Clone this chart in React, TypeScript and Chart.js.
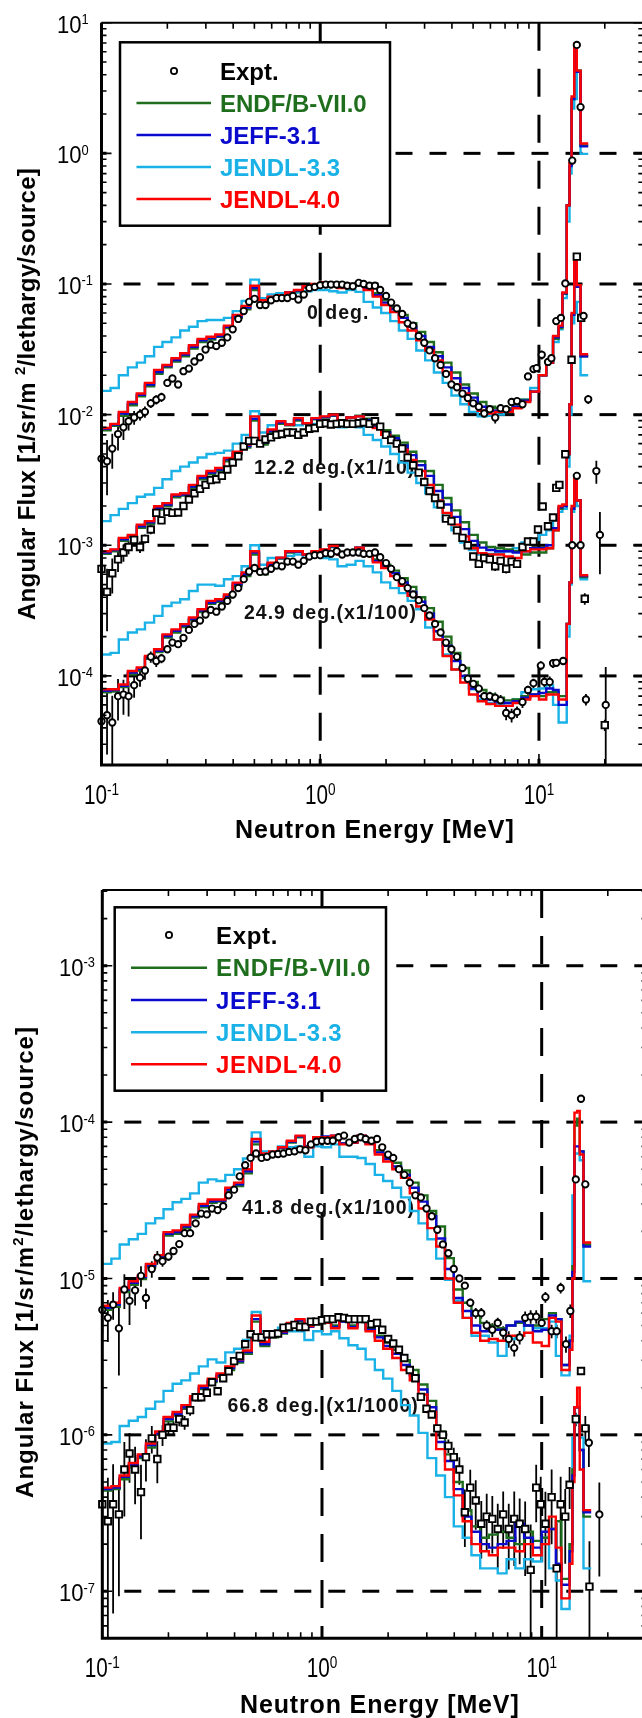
import React, { useEffect, useRef } from "react";
import { Chart, registerables } from "chart.js";

Chart.register(...registerables);

// ---------------- energy grids (MeV) ----------------
const CALC_EDGES = [
  0.1, 0.11, 0.12, 0.132, 0.145, 0.158, 0.174, 0.19, 0.209, 0.229, 0.251, 0.275, 0.302, 0.331, 0.363, 0.398, 0.437, 0.479, 0.525, 0.575, 0.631, 0.692, 0.759, 0.832, 0.912,
  1.0, 1.1, 1.2, 1.32, 1.45, 1.58, 1.74, 1.9, 2.09, 2.29, 2.51, 2.75, 3.02, 3.31, 3.63, 3.98, 4.37, 4.79, 5.25, 5.75, 6.31, 6.92, 7.59, 8.32, 9.12,
  10.0, 10.8, 11.6, 12.3, 12.8, 13.4, 13.8, 14.1, 14.5, 14.9, 15.5, 16.8,
];
const EXP_E = [
  0.1, 0.106, 0.112, 0.119, 0.126, 0.133, 0.141, 0.15, 0.158, 0.168, 0.178, 0.188, 0.2, 0.211, 0.224, 0.237, 0.251, 0.266, 0.282, 0.299,
  0.316, 0.335, 0.355, 0.376, 0.398, 0.422, 0.447, 0.473, 0.501, 0.531, 0.562, 0.596, 0.631, 0.668, 0.708, 0.75, 0.794, 0.841, 0.891, 0.944,
  1.0, 1.06, 1.12, 1.19, 1.26, 1.33, 1.41, 1.5, 1.58, 1.68, 1.78, 1.88, 2.0, 2.11, 2.24, 2.37, 2.51, 2.66, 2.82, 2.99,
  3.16, 3.35, 3.55, 3.76, 3.98, 4.22, 4.47, 4.73, 5.01, 5.31, 5.62, 5.96, 6.31, 6.68, 7.08, 7.5, 7.94, 8.41, 8.91, 9.44,
];

// ---------------- 0 deg (values in units of 1e-2) ----------------
const UNIT_0 = 1e-2;
const ENDF_0 = [0.76,0.82,0.98,1.18,1.38,1.65,2.05,2.3,2.55,2.8,3.2,3.6,3.75,3.95,4.6,5.5,6.4,9.0,7.0,7.7,8.0,8.5,8.8,9.4,9.9,10.2,10.0,9.4,10.0,10.2,9.6,8.5,7.5,6.6,5.8,5.0,4.3,3.6,3.0,2.5,2.1,1.7,1.45,1.25,1.15,1.12,1.12,1.2,1.3,1.5,2.0,2.5,3.8,4.6,8.4,40,84,260,650,430,115];
const JEFF_0 = [0.78,0.84,1.02,1.22,1.42,1.7,2.12,2.35,2.62,2.88,3.3,3.7,3.85,4.0,4.7,5.6,6.6,9.3,7.2,7.8,8.1,8.6,8.9,9.5,9.9,10.2,10.0,9.4,10.0,10.1,9.3,8.2,7.2,6.4,5.5,4.7,4.0,3.3,2.8,2.3,1.9,1.6,1.35,1.15,1.07,1.07,1.08,1.15,1.28,1.5,2.0,2.5,3.9,4.7,8.5,40,80,260,650,420,113];
const J33_0 = [1.52,1.6,2.0,2.3,2.5,2.8,3.3,3.6,3.9,4.4,4.7,5.2,5.3,5.3,5.5,6.2,7.4,10.8,7.8,8.3,8.5,8.6,8.6,8.8,9.0,9.0,8.8,8.6,9.0,8.7,7.3,6.6,6.0,5.2,4.4,3.8,3.1,2.6,2.1,1.75,1.4,1.2,1.05,0.97,0.98,1.0,1.05,1.15,1.3,1.6,2.0,2.5,3.6,4.5,7.8,30,70,220,260,430,99];
const J40_0 = [0.79,0.85,1.05,1.25,1.45,1.75,2.2,2.4,2.7,2.95,3.4,3.8,3.95,4.1,4.8,5.8,6.8,9.7,7.5,8.0,8.2,8.6,9.0,9.6,10.0,10.3,10.0,9.3,10.0,10.0,9.0,8.0,6.9,6.1,5.1,4.4,3.7,3.1,2.6,2.1,1.7,1.45,1.2,1.07,1.02,1.05,1.05,1.12,1.25,1.5,2.0,2.5,4.0,4.8,8.6,40,84,272,690,430,119];
const EXP_0 = [
  0.46,0.44,0.55,0.71,0.8,0.89,0.95,1.0,1.05,1.22,1.3,1.36,1.75,1.89,1.7,2.15,2.25,2.55,2.75,3.15,
  3.43,3.35,3.55,3.9,4.5,5.4,6.2,7.3,7.7,6.9,6.9,7.5,7.8,7.8,7.8,8.1,7.6,8.3,9.3,9.5,
  9.8,9.9,9.9,9.9,9.9,9.7,9.6,10.2,10.0,9.7,9.7,9.0,8.1,7.2,6.5,5.9,5.0,4.8,4.0,3.55,
  3.1,2.7,2.4,2.05,1.7,1.62,1.45,1.34,1.22,1.15,1.02,1.1,0.95,1.12,1.1,1.25,1.27,1.2,1.96,2.23,
];
const ERR_0 = [
  0.5,0.45,0.3,0.25,0.2,0.15,0.12,0.1,0.1,0.08,0.08,0.08,0.06,0.06,0.06,0.05,0,0,0,0,
  0,0,0,0,0,0,0,0,0,0,0,0,0,0,0,0,0,0,0,0,
  0,0,0,0,0,0,0,0,0,0,0,0,0,0,0,0,0,0,0,0,
  0,0,0,0,0,0,0,0,0,0.05,0.06,0.06,0.1,0.06,0.05,0.04,0.04,0.05,0.05,0.05,
];
const EXP_0_HE_E = [9.76, 10.3, 11.0, 11.4, 12.0, 12.6, 13.2, 14.2, 14.9, 15.5, 16.0, 16.8, 18.3, 19.0];
const EXP_0_HE = [2.27, 2.87, 2.53, 2.7, 5.2, 5.5, 10.1, 88, 676, 226, 5.7, 1.31, 0.37, 0.12];
const ERR_0_HE = [0, 0.08, 0, 0, 0.06, 0, 0, 0, 0, 0, 0, 0.08, 0.2, 0.5];

// ---------------- 12.2 deg x1/10 (units of 1e-3) ----------------
const UNIT_12 = 1e-3;
const ENDF_12 = [0.86,0.9,1.08,1.15,1.36,1.46,1.88,2.0,2.33,2.4,2.75,3.2,3.5,3.7,4.4,5.0,5.6,9.0,5.9,7.3,8.5,8.3,9.0,8.6,9.2,9.5,9.8,9.0,9.5,9.8,9.3,8.3,7.6,6.9,6.1,5.2,4.4,3.7,2.9,2.3,1.85,1.5,1.2,1.05,0.97,0.95,0.93,0.9,0.85,0.88,0.88,0.95,1.3,1.9,2.0,5,12,58,145,95,28];
const JEFF_12 = [0.88,0.92,1.11,1.18,1.4,1.5,1.93,2.05,2.4,2.45,2.82,3.3,3.6,3.8,4.55,5.1,5.75,9.3,6.1,7.5,8.7,8.4,9.2,8.6,9.3,9.6,9.9,9.0,9.5,9.7,9.1,8.1,7.3,6.6,5.8,4.9,4.1,3.4,2.6,2.05,1.65,1.33,1.08,0.96,0.92,0.9,0.9,0.88,0.9,0.95,0.95,1.0,1.35,1.95,2.0,5,12,58,145,95,28];
const J33_12 = [1.53,1.7,1.9,2.1,2.35,2.45,2.75,3.2,3.7,4.0,4.3,4.7,5.0,5.1,5.3,6.0,7.0,10.6,7.3,8.3,8.6,8.4,8.3,8.5,8.5,8.4,8.3,8.0,8.5,8.0,7.0,6.4,5.7,5.0,4.3,3.6,3.0,2.5,1.95,1.55,1.3,1.05,0.92,0.85,0.86,0.88,0.9,0.95,1.05,1.1,1.2,1.3,1.6,1.8,1.9,4,10,50,60,73,20];
const J40_12 = [0.9,0.93,1.14,1.2,1.44,1.53,1.99,2.1,2.45,2.5,2.9,3.4,3.7,3.9,4.66,5.2,5.9,9.7,6.25,7.7,8.9,8.4,9.4,8.6,9.4,9.7,10.0,8.9,9.5,9.7,8.9,7.9,7.0,6.25,5.4,4.5,3.7,2.9,2.2,1.77,1.44,1.17,0.95,0.87,0.85,0.85,0.82,0.8,0.9,0.93,0.93,0.95,1.3,2.0,2.05,5,12,60,150,98,29];
const EXP_12 = [
  0.66,0.44,0.61,0.78,0.88,0.97,1.1,0.97,1.12,1.32,1.77,1.55,1.8,1.77,1.78,2.0,2.24,2.5,2.7,2.9,
  3.15,3.2,3.4,3.8,4.3,4.8,5.7,6.3,6.3,6.0,6.45,6.7,7.0,7.1,7.3,7.3,7.0,7.3,7.8,7.9,
  8.5,8.6,8.4,8.5,8.6,8.5,8.5,8.6,8.7,8.5,8.9,8.1,7.0,6.4,6.0,5.5,4.7,4.1,3.6,3.05,
  2.6,2.3,2.05,1.6,1.53,1.3,1.14,1.0,0.82,0.72,0.8,0.78,0.69,0.76,0.66,0.75,0.72,0.97,1.07,1.07,
];
const ERR_12 = [
  0.4,0.5,0.3,0.2,0.15,0.12,0.1,0.1,0.08,0.08,0.06,0.06,0.05,0.05,0,0,0,0,0,0,
  0,0,0,0,0,0,0,0,0,0,0,0,0,0,0,0,0,0,0,0,
  0,0,0,0,0,0,0,0,0,0,0,0,0,0,0,0,0,0,0,0,
  0,0,0,0,0,0,0,0,0.05,0.06,0.06,0.06,0.08,0.06,0.08,0.06,0.06,0.05,0.05,0.05,
];
const EXP_12_HE_E = [9.9, 10.4, 11.0, 11.6, 12.0, 12.4, 13.2, 14.1, 14.9, 15.6, 16.2, 20.0];
const EXP_12_HE = [1.32, 1.98, 1.4, 1.63, 2.75, 2.9, 4.98, 26.3, 162, 55, 0.39, 0.042];
const ERR_12_HE = [0, 0, 0, 0, 0, 0, 0, 0, 0, 0, 0.1, 0.1];

// ---------------- 24.9 deg x1/100 (units of 1e-4) ----------------
const UNIT_24 = 1e-4;
const ENDF_24 = [0.75,0.76,0.82,1.03,1.1,1.35,1.52,1.97,2.15,2.37,2.66,3.08,3.56,3.7,4.0,4.9,5.8,8.5,6.0,7.1,7.9,8.8,8.9,8.5,8.9,9.2,9.7,8.6,8.9,9.6,8.6,7.8,7.1,6.4,5.6,4.8,4.0,3.3,2.6,2.0,1.5,1.15,0.9,0.78,0.72,0.68,0.65,0.66,0.7,0.72,0.7,0.75,0.75,0.7,0.7,2.5,5.2,19,33,22,5.7];
const JEFF_24 = [0.77,0.78,0.84,1.06,1.13,1.39,1.56,2.02,2.21,2.43,2.73,3.16,3.65,3.78,4.1,5.05,6.0,8.8,6.2,7.2,8.0,8.9,8.9,8.5,8.9,9.2,9.8,8.5,8.8,9.6,8.4,7.6,6.9,6.1,5.2,4.4,3.7,3.0,2.2,1.7,1.3,1.0,0.8,0.7,0.66,0.63,0.62,0.64,0.68,0.72,0.74,0.8,0.78,0.6,0.6,2.5,5.2,19,33,22,5.8];
const J33_24 = [1.46,1.5,1.9,2.15,2.27,2.56,2.88,3.43,3.64,3.86,4.47,5.0,5.0,4.9,5.5,5.8,6.9,10.0,7.1,8.0,8.0,8.3,8.5,8.0,8.5,8.0,7.8,6.9,7.1,7.6,6.9,6.2,5.2,4.7,4.3,3.75,3.24,2.35,1.9,1.46,1.12,0.97,0.79,0.66,0.62,0.61,0.62,0.66,0.75,0.79,0.8,0.85,0.6,0.44,0.44,2.0,5.0,18,25,20,5.5];
const J40_24 = [0.79,0.79,0.86,1.09,1.16,1.42,1.6,2.08,2.27,2.49,2.8,3.24,3.75,3.86,4.2,5.18,6.2,9.0,6.35,7.35,8.05,9.0,9.0,8.5,9.0,9.3,9.9,8.5,8.8,9.6,8.3,7.4,6.7,5.8,4.9,4.1,3.4,2.7,1.9,1.42,1.12,0.89,0.72,0.64,0.61,0.59,0.59,0.62,0.66,0.7,0.66,0.72,0.72,0.66,0.66,2.5,5.2,20,34,22,5.9];
const EXP_24 = [
  0.45,0.5,0.44,0.7,0.72,0.7,0.85,0.97,1.1,1.4,1.3,1.36,1.6,1.8,1.75,1.95,2.25,2.5,2.65,2.95,
  3.2,3.1,3.4,3.75,4.2,4.7,5.5,6.3,6.7,6.25,6.3,6.6,7.0,6.9,7.5,7.5,7.1,7.6,8.2,8.4,
  8.4,8.7,8.6,9.0,8.5,8.8,8.8,8.8,8.6,8.6,8.8,8.1,7.3,6.6,5.7,5.3,4.7,4.2,3.8,3.3,
  2.9,2.5,2.15,1.8,1.6,1.4,1.15,0.95,0.87,0.8,0.7,0.7,0.68,0.65,0.52,0.5,0.53,0.63,0.78,0.88,
];
const ERR_24 = [
  0.6,0.5,0.6,0.35,0.3,0.3,0.2,0.15,0.15,0.1,0.1,0.08,0.06,0.06,0.05,0.05,0,0,0,0,
  0,0,0,0,0,0,0,0,0,0,0,0,0,0,0,0,0,0,0,0,
  0,0,0,0,0,0,0,0,0,0,0,0,0,0,0,0,0,0,0,0,
  0,0,0,0,0,0,0,0,0.06,0.06,0.08,0.08,0.1,0.1,0.12,0.12,0.1,0.1,0.08,0.08,
];
const EXP_24_HE_E = [10.2, 10.6, 11.2, 11.6, 12.0, 12.9, 14.2, 14.9, 15.5, 16.4, 20.2];
const EXP_24_HE = [1.2, 0.9, 0.9, 1.25, 1.26, 1.3, 10, 34, 10, 0.66, 0.6];
const ERR_24_HE = [0.08, 0.1, 0.1, 0.08, 0.06, 0.06, 0, 0, 0, 0.1, 0.95];

// ---------------- 41.8 deg x1/100 (units of 1e-5) ----------------
const UNIT_41 = 1e-5;
const ENDF_41 = [0.63,0.66,0.82,0.91,0.99,1.18,1.34,1.88,1.93,2.1,2.45,2.85,3.05,3.1,3.6,3.9,4.7,7.2,5.9,6.3,6.8,7.4,8.0,7.0,7.9,8.0,8.1,7.3,7.4,8.1,7.4,6.6,6.0,5.5,4.9,4.1,3.4,2.7,2.15,1.35,0.85,0.7,0.58,0.52,0.5,0.48,0.5,0.52,0.5,0.5,0.55,0.6,0.55,0.28,0.28,0.4,1.2,9.5,10.5,6.5,1.65];
const JEFF_41 = [0.65,0.68,0.85,0.94,1.02,1.21,1.38,1.93,1.98,2.15,2.5,2.92,3.12,3.15,3.7,4.0,4.85,7.5,6.1,6.4,6.85,7.5,8.1,7.0,8.0,8.1,8.2,7.3,7.4,8.2,7.3,6.4,5.8,5.2,4.6,3.8,3.1,2.5,1.8,1.15,0.75,0.62,0.5,0.46,0.47,0.47,0.5,0.53,0.5,0.46,0.47,0.58,0.55,0.28,0.28,0.4,1.1,7.0,7.0,6.5,1.6];
const J33_41 = [1.24,1.34,1.65,1.78,1.93,2.25,2.43,2.77,3.07,3.23,3.5,4.1,4.3,4.2,4.6,5.0,5.85,8.6,6.5,6.5,7.0,6.9,7.0,6.0,7.0,6.9,7.2,6.0,6.0,5.9,5.4,4.6,4.2,3.8,3.3,2.7,2.25,1.78,1.34,0.98,0.72,0.56,0.43,0.43,0.39,0.32,0.41,0.43,0.5,0.48,0.48,0.53,0.32,0.24,0.24,0.43,3.4,6.3,6.3,5.7,0.96];
const J40_41 = [0.67,0.7,0.87,0.96,1.04,1.24,1.41,1.98,2.03,2.2,2.56,3.0,3.2,3.2,3.8,4.1,5.0,7.8,6.3,6.5,6.9,7.6,8.2,6.9,8.0,8.0,8.2,7.2,7.4,8.2,7.2,6.2,5.6,5.0,4.4,3.5,2.8,2.1,1.6,1.0,0.7,0.56,0.45,0.4,0.41,0.4,0.43,0.43,0.45,0.39,0.37,0.56,0.53,0.26,0.26,0.35,1.0,11.5,11.8,6.2,1.7];
const EXP_41 = [
  0.63,0.56,0.68,0.48,0.85,0.72,0.84,1.04,0.75,1.15,1.36,1.29,1.38,1.5,1.66,1.95,1.95,2.25,2.6,2.57,
  2.8,2.74,2.9,3.4,3.7,4.5,5.3,5.9,6.3,5.9,6.0,6.2,6.25,6.3,6.45,6.5,6.7,6.6,7.2,7.5,
  7.6,7.6,7.6,8.0,8.2,7.4,7.8,8.0,7.8,7.6,7.8,6.9,6.2,5.9,5.0,4.6,4.1,3.4,3.3,2.8,
  2.5,2.05,1.65,1.45,1.15,1.0,0.9,0.7,0.6,0.6,0.5,0.47,0.52,0.45,0.41,0.36,0.42,0.56,0.57,0.57,
];
const ERR_41 = [
  0.3,0.3,0.2,0.5,0.25,0.3,0.2,0.15,0.15,0.12,0.1,0.08,0.06,0.06,0.05,0.05,0,0,0,0,
  0,0,0,0,0,0,0,0,0,0,0,0,0,0,0,0,0,0,0,0,
  0,0,0,0,0,0,0,0,0,0,0,0,0,0,0,0,0,0,0,0,
  0,0,0,0,0,0,0.05,0.06,0.08,0.08,0.08,0.1,0.08,0.1,0.12,0.12,0.1,0.1,0.1,0.1,
];
const EXP_41_HE_E = [10.0, 10.4, 11.1, 11.7, 12.2, 12.9, 13.5, 14.3, 15.1, 15.8, 16.4, 18.3];
const EXP_41_HE = [0.52, 0.76, 0.46, 0.46, 0.87, 0.38, 0.62, 4.3, 14.1, 4.0, 0.089, 0.031];
const ERR_41_HE = [0.08, 0.08, 0.1, 0.1, 0.08, 0.12, 0.1, 0.05, 0, 0.05, 0.3, 0.6];

// ---------------- 66.8 deg x1/1000 (units of 1e-6) ----------------
const UNIT_66 = 1e-6;
const ENDF_66 = [0.44,0.45,0.52,0.62,0.71,0.83,1.0,1.22,1.33,1.47,1.68,1.96,2.18,2.35,2.6,2.9,3.3,5.3,3.7,4.2,4.45,5.0,5.3,5.0,5.3,5.2,5.0,5.3,5.0,5.3,4.8,4.3,3.9,3.5,3.0,2.6,2.1,1.65,1.05,0.75,0.5,0.33,0.26,0.22,0.23,0.24,0.22,0.2,0.24,0.21,0.22,0.25,0.28,0.12,0.12,0.2,0.6,1.5,1.5,0.8,0.3];
const JEFF_66 = [0.45,0.46,0.54,0.64,0.73,0.86,1.02,1.26,1.36,1.5,1.72,2.0,2.22,2.4,2.67,2.97,3.38,5.5,3.8,4.3,4.5,5.1,5.4,4.9,5.3,5.2,4.9,5.3,4.9,5.3,4.7,4.2,3.7,3.3,2.8,2.4,1.95,1.5,0.9,0.68,0.45,0.3,0.24,0.2,0.19,0.2,0.21,0.27,0.22,0.19,0.24,0.25,0.15,0.11,0.11,0.18,0.55,1.5,1.5,0.8,0.32];
const J33_66 = [0.88,0.9,1.14,1.23,1.3,1.47,1.63,1.91,2.12,2.23,2.47,2.74,3.04,2.9,3.37,3.55,4.04,6.1,4.6,4.4,4.85,4.6,4.6,4.04,4.6,4.4,4.6,4.15,3.74,3.55,3.04,2.6,2.29,1.91,1.55,1.33,1.03,0.71,0.55,0.4,0.26,0.22,0.17,0.14,0.14,0.13,0.16,0.14,0.16,0.155,0.22,0.14,0.117,0.077,0.077,0.2,0.96,1.2,1.33,0.96,0.14];
const J40_66 = [0.46,0.47,0.55,0.66,0.75,0.88,1.05,1.3,1.4,1.55,1.77,2.06,2.29,2.47,2.74,3.04,3.46,5.8,3.94,4.4,4.6,5.2,5.5,4.97,5.4,5.2,4.8,5.4,4.8,5.4,4.6,4.0,3.55,3.1,2.6,2.23,1.81,1.4,0.81,0.6,0.41,0.28,0.2,0.18,0.17,0.19,0.19,0.18,0.2,0.17,0.2,0.3,0.19,0.09,0.09,0.15,0.5,1.5,2.0,0.6,0.33];
const EXP_66 = [
  0.36,0.28,0.36,0.31,0.6,0.76,0.6,0.43,0.72,0.95,0.7,1.0,1.11,1.11,1.26,1.2,1.44,1.74,1.74,1.86,
  2.17,1.9,2.3,2.55,2.96,3.2,3.8,4.4,4.2,4.2,4.4,4.4,4.45,4.85,4.9,5.05,4.9,4.9,5.3,5.3,
  5.4,5.5,5.5,5.65,5.6,5.5,5.5,5.5,5.5,5.1,5.2,4.7,4.1,3.84,3.5,3.1,2.6,2.3,1.75,1.47,
  1.35,1.1,1.0,0.85,0.72,0.6,0.32,0.46,0.38,0.27,0.3,0.29,0.25,0.31,0.25,0.29,0.27,0.25,0.137,0.46,
];
const ERR_66 = [
  0.9,0.9,0.8,0.7,0.5,0.35,0.4,0.5,0.3,0.2,0.3,0.15,0.1,0.1,0.1,0.1,0.08,0.06,0.06,0.06,
  0.05,0.05,0,0,0,0,0,0,0,0,0,0,0,0,0,0,0,0,0,0,
  0,0,0,0,0,0,0,0,0,0,0,0,0,0,0,0,0,0,0,0,
  0,0,0.06,0.1,0.15,0.2,0.4,0.3,0.35,0.4,0.4,0.4,0.45,0.4,0.45,0.5,0.45,0.5,0.95,0.4,
];
const EXP_66_HE_E = [9.9, 10.4, 11.1, 11.7, 12.2, 12.8, 13.4, 14.3, 15.1, 15.8, 16.5];
const EXP_66_HE = [0.36, 0.27, 0.4, 0.14, 0.36, 0.3, 0.48, 1.26, 2.56, 1.1, 0.107];
const ERR_66_HE = [0.5, 0.6, 0.5, 0.95, 0.5, 0.5, 0.3, 0.1, 0.05, 0.2, 0.95];

// ---------------- labels ----------------
const LEGEND_LABELS = ["Expt.", "ENDF/B-VII.0", "JEFF-3.1", "JENDL-3.3", "JENDL-4.0"];
const LIB_COLORS = ["#1e6e1e", "#0a0acd", "#1ab2e6", "#ff0000"];
const LIB_ORDER = [3, 2, 4, 1];
const X_TITLE = "Neutron Energy [MeV]";
const Y_TITLE_TOP = ["Angular Flux [1/sr/m ", "2", "/lethargy/source]"];
const Y_TITLE_BOTTOM = ["Angular Flux [1/sr/m", "2", "/lethargy/source]"];
const X_TICK_EXPS = [-1, 0, 1];
const Y_TICK_EXPS_TOP = [1, 0, -1, -2, -3, -4];
const Y_TICK_EXPS_BOTTOM = [-3, -4, -5, -6, -7];
const ANNOT_TOP = ["0 deg.", "12.2 deg.(x1/10)", "24.9 deg.(x1/100)"];
const ANNOT_BOTTOM = ["41.8 deg.(x1/100)", "66.8 deg. (x1/1000)"];

const FONT = '"Liberation Sans", Arial, Helvetica, sans-serif';
const CANVAS_W = 660;

type Group = {
  unit: number;
  calc: number[][];
  exp: number[];
  err: number[];
  heE: number[];
  he: number[];
  heErr: number[];
  marker: string;
};

const G0: Group = { unit: UNIT_0, calc: [ENDF_0, JEFF_0, J33_0, J40_0], exp: EXP_0, err: ERR_0, heE: EXP_0_HE_E, he: EXP_0_HE, heErr: ERR_0_HE, marker: "circle" };
const G12: Group = { unit: UNIT_12, calc: [ENDF_12, JEFF_12, J33_12, J40_12], exp: EXP_12, err: ERR_12, heE: EXP_12_HE_E, he: EXP_12_HE, heErr: ERR_12_HE, marker: "rect" };
const G24: Group = { unit: UNIT_24, calc: [ENDF_24, JEFF_24, J33_24, J40_24], exp: EXP_24, err: ERR_24, heE: EXP_24_HE_E, he: EXP_24_HE, heErr: ERR_24_HE, marker: "circle" };
const G41: Group = { unit: UNIT_41, calc: [ENDF_41, JEFF_41, J33_41, J40_41], exp: EXP_41, err: ERR_41, heE: EXP_41_HE_E, he: EXP_41_HE, heErr: ERR_41_HE, marker: "circle" };
const G66: Group = { unit: UNIT_66, calc: [ENDF_66, JEFF_66, J33_66, J40_66], exp: EXP_66, err: ERR_66, heE: EXP_66_HE_E, he: EXP_66_HE, heErr: ERR_66_HE, marker: "rect" };

const TOP_CFG = {
  height: 860,
  padding: { left: 101.5, top: 22.7, right: CANVAS_W - 643.3, bottom: 860 - 765 },
  yMin: 2.08e-5,
  yMax: 10,
  groups: [G0, G12, G24],
  yTickExps: Y_TICK_EXPS_TOP,
  yLabelX: 57,
  yTitle: Y_TITLE_TOP,
  yTitlePos: [26.5, 394],
  yTitleSpacing: 0.3,
  xTitlePos: [374.8, 838],
  legend: { box: [120, 42.3, 390, 225.7], rows: [71, 103, 135, 167, 199], line: [136.5, 211], markerX: 174, textX: 220, spacing: 0 },
  annots: ANNOT_TOP,
  annotPos: [[307, 311.7], [254, 466.7], [244, 612.3]],
};
const BOTTOM_CFG = {
  height: 858,
  padding: { left: 102.3, top: 30, right: CANVAS_W - 646.5, bottom: 858 - 778.3 },
  yMin: 5e-8,
  yMax: 3.05e-3,
  groups: [G41, G66],
  yTickExps: Y_TICK_EXPS_BOTTOM,
  yLabelX: 59,
  yTitle: Y_TITLE_BOTTOM,
  yTitlePos: [24.5, 402],
  yTitleSpacing: 1.0,
  xTitlePos: [379.8, 853],
  legend: { box: [114.7, 47.3, 386, 230.7], rows: [75, 107.7, 140, 172.3, 204.3], line: [131, 207], markerX: 169, textX: 216, spacing: 0.7 },
  annots: ANNOT_BOTTOM,
  annotPos: [[242, 346.7], [227.5, 545]],
};

function stepData(values: number[], unit: number) {
  const pts = values.map((v, i) => ({ x: CALC_EDGES[i], y: v * unit }));
  pts.push({ x: CALC_EDGES[values.length], y: values[values.length - 1] * unit });
  return pts;
}

function expPoints(g: Group) {
  const pts: { x: number; y: number; e: number }[] = [];
  EXP_E.forEach((x, i) => pts.push({ x, y: g.exp[i] * g.unit, e: g.err[i] }));
  g.heE.forEach((x, i) => pts.push({ x, y: g.he[i] * g.unit, e: g.heErr[i] }));
  return pts;
}

function scaledText(ctx: CanvasRenderingContext2D, text: string, x: number, y: number, font: string, sx: number) {
  ctx.save();
  ctx.font = font;
  ctx.translate(x, y);
  ctx.scale(sx, 1);
  ctx.textAlign = "left";
  ctx.textBaseline = "alphabetic";
  ctx.fillText(text, 0, 0);
  const w = ctx.measureText(text).width * sx;
  ctx.restore();
  return w;
}
function measure(ctx: CanvasRenderingContext2D, text: string, font: string, sx: number) {
  ctx.save();
  ctx.font = font;
  const w = ctx.measureText(text).width * sx;
  ctx.restore();
  return w;
}

function drawMarker(ctx: CanvasRenderingContext2D, style: string, x: number, y: number) {
  ctx.save();
  ctx.fillStyle = "#fff";
  ctx.strokeStyle = "#000";
  ctx.lineWidth = 1.8;
  ctx.beginPath();
  if (style === "rect") ctx.rect(x - 3.2, y - 3.2, 6.4, 6.4);
  else ctx.arc(x, y, 3.1, 0, Math.PI * 2);
  ctx.fill();
  ctx.stroke();
  ctx.restore();
}

function makeDeco(cfg: any, groupsPts: any[]) {
  return {
    id: "deco",
    beforeDatasetsDraw(chart: any) {
      const { ctx, chartArea: a, scales } = chart;
      const xs = scales.x;
      const ys = scales.y;
      ctx.save();
      ctx.beginPath();
      ctx.rect(a.left, a.top, a.right - a.left, a.bottom - a.top);
      ctx.clip();
      // dashed grid at decades
      ctx.strokeStyle = "#000";
      ctx.lineWidth = 3;
      ctx.setLineDash([17, 17]);
      for (let e = -8; e <= 2; e++) {
        const v = Math.pow(10, e);
        if (v <= cfg.yMin * 1.0001 || v >= cfg.yMax * 0.9999) continue;
        const y = ys.getPixelForValue(v);
        ctx.lineDashOffset = -22;
        ctx.beginPath();
        ctx.moveTo(a.left, y);
        ctx.lineTo(a.right, y);
        ctx.stroke();
      }
      ctx.setLineDash([28, 18]);
      for (const e of [0, 1]) {
        const x = xs.getPixelForValue(Math.pow(10, e));
        ctx.lineDashOffset = 0;
        ctx.beginPath();
        ctx.moveTo(x, a.top);
        ctx.lineTo(x, a.bottom);
        ctx.stroke();
      }
      ctx.setLineDash([]);
      // annotations
      ctx.fillStyle = "#111";
      ctx.font = `bold 19.5px ${FONT}`;
      (ctx as any).letterSpacing = "1px";
      ctx.textAlign = "left";
      ctx.textBaseline = "alphabetic";
      cfg.annots.forEach((t: string, i: number) => {
        const [x, y] = cfg.annotPos[i];
        ctx.fillText(t, x, y + 7);
      });
      (ctx as any).letterSpacing = "0px";
      // error bars
      ctx.strokeStyle = "#000";
      ctx.lineWidth = 1.8;
      groupsPts.forEach((pts) => {
        pts.forEach((p: any) => {
          if (!p.e) return;
          const x = xs.getPixelForValue(p.x);
          const top = ys.getPixelForValue(p.y * (1 + p.e));
          const lo = p.y * (1 - p.e);
          const bot = lo > cfg.yMin ? ys.getPixelForValue(lo) : a.bottom;
          ctx.beginPath();
          ctx.moveTo(x, top);
          ctx.lineTo(x, bot);
          ctx.stroke();
        });
      });
      ctx.restore();
    },
    afterDatasetsDraw(chart: any) {
      const { ctx, chartArea: a, scales } = chart;
      const xs = scales.x;
      const ys = scales.y;
      ctx.save();
      ctx.strokeStyle = "#000";
      ctx.fillStyle = "#000";
      // frame
      ctx.lineWidth = 2;
      ctx.beginPath();
      ctx.moveTo(a.left, a.top);
      ctx.lineTo(a.right, a.top);
      ctx.lineTo(a.right, a.bottom);
      ctx.stroke();
      ctx.lineWidth = 3;
      ctx.beginPath();
      ctx.moveTo(a.left, a.top);
      ctx.lineTo(a.left, a.bottom);
      ctx.lineTo(a.right, a.bottom);
      ctx.stroke();
      // y ticks
      ctx.lineWidth = 1.6;
      for (let d = -9; d <= 2; d++) {
        for (let m = 1; m <= 9; m++) {
          const v = m * Math.pow(10, d);
          if (v < cfg.yMin || v > cfg.yMax) continue;
          const y = ys.getPixelForValue(v);
          const len = m === 1 ? 10 : 5;
          ctx.beginPath();
          ctx.moveTo(a.left, y);
          ctx.lineTo(a.left + len, y);
          ctx.moveTo(a.right, y);
          ctx.lineTo(a.right - len, y);
          ctx.stroke();
        }
      }
      // x ticks
      for (let d = -1; d <= 1; d++) {
        for (let m = 1; m <= 9; m++) {
          const v = m * Math.pow(10, d);
          if (v > 30) continue;
          const x = xs.getPixelForValue(v);
          const len = m === 1 ? 11 : 6;
          ctx.beginPath();
          ctx.moveTo(x, a.bottom);
          ctx.lineTo(x, a.bottom - len);
          ctx.moveTo(x, a.top);
          ctx.lineTo(x, a.top + len);
          ctx.stroke();
        }
      }
      // y tick labels
      ctx.fillStyle = "#000";
      cfg.yTickExps.forEach((e: number) => {
        const y = ys.getPixelForValue(Math.pow(10, e));
        const w = scaledText(ctx, "10", cfg.yLabelX, y + 10.1, `24px ${FONT}`, 0.92);
        scaledText(ctx, String(e), cfg.yLabelX + w, y + 1.5, `14px ${FONT}`, 0.92);
      });
      // x tick labels
      X_TICK_EXPS.forEach((e) => {
        const x = xs.getPixelForValue(Math.pow(10, e));
        const f1 = `28px ${FONT}`;
        const f2 = `17px ${FONT}`;
        const w1 = measure(ctx, "10", f1, 0.74);
        const w2 = measure(ctx, String(e), f2, 0.8);
        const start = x - (w1 + w2) / 2;
        scaledText(ctx, "10", start, a.bottom + 38.5, f1, 0.74);
        scaledText(ctx, String(e), start + w1, a.bottom + 30, f2, 0.8);
      });
      // x title
      ctx.font = `bold 25px ${FONT}`;
      (ctx as any).letterSpacing = "0.85px";
      ctx.textAlign = "center";
      ctx.textBaseline = "alphabetic";
      ctx.fillText(X_TITLE, cfg.xTitlePos[0], cfg.xTitlePos[1]);
      // y title (rotated, with superscript)
      (ctx as any).letterSpacing = `${cfg.yTitleSpacing}px`;
      const fMain = `bold 24px ${FONT}`;
      const fSup = `bold 15px ${FONT}`;
      ctx.font = fMain;
      const w0 = ctx.measureText(cfg.yTitle[0]).width;
      const w2 = ctx.measureText(cfg.yTitle[2]).width;
      ctx.font = fSup;
      const w1 = ctx.measureText(cfg.yTitle[1]).width;
      const total = w0 + w1 + w2;
      ctx.save();
      ctx.translate(cfg.yTitlePos[0], cfg.yTitlePos[1]);
      ctx.rotate(-Math.PI / 2);
      ctx.textAlign = "left";
      ctx.textBaseline = "alphabetic";
      let cx = -total / 2;
      ctx.font = fMain;
      ctx.fillText(cfg.yTitle[0], cx, 8.5);
      cx += w0;
      ctx.font = fSup;
      ctx.fillText(cfg.yTitle[1], cx, -1.5);
      cx += w1;
      ctx.font = fMain;
      ctx.fillText(cfg.yTitle[2], cx, 8.5);
      ctx.restore();
      (ctx as any).letterSpacing = "0px";
      // legend
      const L = cfg.legend;
      ctx.fillStyle = "#fff";
      ctx.fillRect(L.box[0], L.box[1], L.box[2] - L.box[0], L.box[3] - L.box[1]);
      ctx.strokeStyle = "#000";
      ctx.lineWidth = 2.5;
      ctx.strokeRect(L.box[0], L.box[1], L.box[2] - L.box[0], L.box[3] - L.box[1]);
      drawMarker(ctx, "circle", L.markerX, L.rows[0]);
      ctx.font = `bold 24px ${FONT}`;
      (ctx as any).letterSpacing = `${L.spacing}px`;
      ctx.textAlign = "left";
      ctx.textBaseline = "alphabetic";
      LEGEND_LABELS.forEach((lab, i) => {
        const y = L.rows[i];
        if (i > 0) {
          ctx.strokeStyle = LIB_COLORS[i - 1];
          ctx.lineWidth = 2.4;
          ctx.beginPath();
          ctx.moveTo(L.line[0], y);
          ctx.lineTo(L.line[1], y);
          ctx.stroke();
          ctx.fillStyle = LIB_COLORS[i - 1];
        } else {
          ctx.fillStyle = "#000";
        }
        ctx.fillText(lab, L.textX, y + 8.6);
      });
      (ctx as any).letterSpacing = "0px";
      ctx.restore();
    },
  };
}

function buildConfig(cfg: any) {
  const datasets: any[] = [];
  const groupsPts: any[] = [];
  cfg.groups.forEach((g: Group) => {
    const pts = expPoints(g);
    groupsPts.push(pts);
    datasets.push({
      data: pts,
      showLine: false,
      pointStyle: g.marker,
      pointRadius: g.marker === "rect" ? 4.6 : 3.2,
      pointBackgroundColor: "#fff",
      pointBorderColor: "#000",
      pointBorderWidth: 1.9,
      borderColor: "#000",
      order: 0,
      clip: 8,
    });
    g.calc.forEach((vals, k) => {
      datasets.push({
        data: stepData(vals, g.unit),
        borderColor: LIB_COLORS[k],
        borderWidth: 2.4,
        pointRadius: 0,
        stepped: true,
        fill: false,
        order: LIB_ORDER[k],
        clip: 2,
      });
    });
  });
  return {
    type: "line",
    data: { datasets },
    options: {
      animation: false,
      responsive: false,
      devicePixelRatio: 1,
      events: [],
      layout: { padding: cfg.padding },
      scales: {
        x: { type: "logarithmic", min: 0.1, max: 30, display: false },
        y: { type: "logarithmic", min: cfg.yMin, max: cfg.yMax, display: false },
      },
      plugins: { legend: { display: false }, tooltip: { enabled: false } },
    },
    plugins: [makeDeco(cfg, groupsPts)],
  };
}

function Panel({ cfg, top }: { cfg: any; top: number }) {
  const ref = useRef<HTMLCanvasElement | null>(null);
  useEffect(() => {
    if (!ref.current) return;
    const chart = new Chart(ref.current, buildConfig(cfg) as any);
    return () => chart.destroy();
  }, [cfg]);
  return (
    <canvas
      ref={ref}
      width={CANVAS_W}
      height={cfg.height}
      style={{ position: "absolute", left: 0, top, width: CANVAS_W, height: cfg.height }}
    />
  );
}

export default function App() {
  return (
    <div style={{ position: "absolute", left: 0, top: 0, width: 642, height: 1718, overflow: "hidden", background: "#fff" }}>
      <Panel cfg={TOP_CFG} top={0} />
      <Panel cfg={BOTTOM_CFG} top={860} />
    </div>
  );
}
